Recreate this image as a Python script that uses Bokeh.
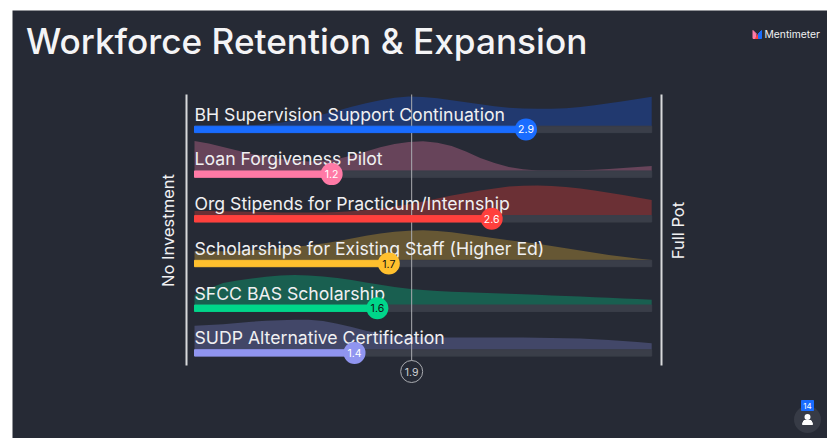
from bokeh.plotting import figure
from bokeh.models import Range1d
from bokeh.core.properties import value
from bokeh.embed import file_html
from bokeh.resources import INLINE

title = "Workforce Retention & Expansion"
categories = ["BH Supervision Support Continuation", "Loan Forgiveness Pilot",
              "Org Stipends for Practicum/Internship", "Scholarships for Existing Staff (Higher Ed)",
              "SFCC BAS Scholarship", "SUDP Alternative Certification"]
scores = [2.9, 1.2, 2.6, 1.7, 1.6, 1.4]
mean_score = 1.9
participants = "14"
left_label = "No Investment"
right_label = "Full Pot"
scale_max = 4
grid = [0, .125, .25, .375, .5, .625, .75, .875, 1, 1.125, 1.25, 1.375, 1.5, 1.625, 1.75, 1.875, 2,
        2.125, 2.25, 2.375, 2.5, 2.625, 2.75, 2.875, 3, 3.125, 3.25, 3.375, 3.5, 3.625, 3.75, 3.875, 4]
dens_bh = [0, .1, .3, .6, 1, 2, 3.5, 6, 9, 12, 15.5, 19.5, 23, 26, 28.5, 29.7, 29.2, 28, 26, 24, 22, 20, 18.5,
           17.8, 17.5, 17.5, 18, 19.3, 21, 23, 25, 27.2, 29.5]
dens_loan = [30, 27.3, 24, 20.5, 17, 14.3, 12, 10.4, 9.5, 10.2, 12, 15.3, 19.5, 23.6, 27, 29, 29.7, 28.2, 25,
             19.3, 13, 8, 4, 1.6, .5, .3, .3, .6, 1.2, 2, 2.8, 3.9, 5]
dens_org = [4.6, 4.5, 4.3, 4.1, 3.8, 3.5, 3.2, 3, 3, 3.2, 3.5, 4.3, 5.5, 7, 9, 11.3, 14, 17, 20, 22.6, 25, 27.2,
            29, 29.8, 30, 29.5, 28.5, 27, 25, 22.8, 20.5, 18, 15.5]
dens_sch = [9, 9, 9, 9.4, 10, 11, 12, 13.4, 15, 16.9, 19, 21.7, 24.5, 26.8, 28.5, 29.6, 30, 29.4, 28, 26, 24, 22,
            20, 18.2, 16.5, 14.3, 12, 9.7, 7.5, 5.4, 3.5, 1.7, .3]
dens_sfcc = [10, 16.5, 22, 24.6, 26.5, 28.2, 29.5, 29.9, 29.5, 28.5, 27, 24.9, 22.5, 20.2, 18, 16.3, 15, 14, 13.3,
             12.8, 12.3, 11.8, 11.3, 10.8, 10.2, 9.6, 9, 8.4, 7.8, 7.2, 6.5, 5.9, 5.3]
dens_sudp = [24, 24.6, 25.5, 26.7, 28, 28.9, 29.5, 29.9, 30, 28.6, 26, 22.6, 19, 16.2, 14, 13, 12.5, 12.3, 12.3,
             12.3, 12.3, 12.3, 12.3, 12.2, 12, 11.8, 11.5, 11.1, 10.5, 9.7, 8.7, 7.6, 6.4]
densities = [dens_bh, dens_loan, dens_org, dens_sch, dens_sfcc, dens_sudp]
bar_colors = ["#196cff", "#ff7aa6", "#ff403d", "#ffc02e", "#00d68a", "#9095f0"]
dens_colors = ["#21396f", "#67445a", "#6b3035", "#665734", "#195f50", "#424768"]
knob_text = ["white", "white", "white", "#101010", "#101010", "white"]

BG = "#262a35"; TRACK = "#3a3e49"; LINE = "#d8d9dc"
X0 = 194.0; PX = 114.3; BASE = 125.7; STEP = 44.7; BAR_H = 6.4
FONT = value("Inter"); TITLE_FONT = value("Inter Medium")

def px(a):
    return (a - X0) / PX

p = figure(width=827, height=438, output_backend="svg", toolbar_location=None,
           min_border_left=12, min_border_top=10, min_border_right=0, min_border_bottom=0,
           x_range=Range1d(px(12), px(827)), y_range=Range1d(438, 10))
p.axis.visible = False
p.grid.visible = False
p.outline_line_color = None
p.background_fill_color = BG
p.border_fill_color = "white"

for i, (d, cd) in enumerate(zip(densities, dens_colors)):
    base = BASE + i * STEP
    p.varea(x=grid, y1=[base] * len(grid), y2=[base - h for h in d], fill_color=cd)
    p.quad(left=[0], right=[scale_max], top=[base], bottom=[base + BAR_H], color=TRACK)

p.segment(x0=[mean_score], x1=[mean_score], y0=[94], y1=[360], line_color="#a9abb0", line_width=1)
p.segment(x0=[px(186), px(661)], x1=[px(186), px(661)],
          y0=[94, 94], y1=[365, 365], line_color=LINE, line_width=2)
p.scatter(x=[mean_score], y=[371], size=22, fill_color=None, line_color="#a9abb0", line_width=1)
p.text(x=[mean_score], y=[371], text=[f"{mean_score}"], text_color="#d0d1d4", text_font_size="10.5px",
       text_font=FONT, text_align="center", text_baseline="middle")

for i, (name, s, cb, kt) in enumerate(zip(categories, scores, bar_colors, knob_text)):
    base = BASE + i * STEP
    p.text(x=[0], y=[base - 1.5], text=[name], text_color="#f0f0f2", text_font_size="17.65px",
           text_font=FONT, text_align="left", text_baseline="bottom")
    p.quad(left=[0], right=[s], top=[base], bottom=[base + BAR_H], color=cb)
    p.scatter(x=[s], y=[base + BAR_H / 2], size=22, fill_color=cb, line_color=None)
    p.text(x=[s], y=[base + BAR_H / 2], text=[f"{s}"], text_color=kt, text_font_size="10.5px",
           text_font=FONT, text_align="center", text_baseline="middle")

p.text(x=[px(25.5)], y=[40.5], text=[title], text_color="#f4f4f6", text_font_size="35.2px",
       text_font=TITLE_FONT, text_align="left", text_baseline="middle")
p.text(x=[px(167.5)], y=[230], text=[left_label], text_color="#f0f0f2", text_font_size="16.5px",
       text_font=FONT, text_align="center", text_baseline="middle", angle=1.5708)
p.text(x=[px(677.5)], y=[230], text=[right_label], text_color="#f0f0f2", text_font_size="16.5px",
       text_font=FONT, text_align="center", text_baseline="middle", angle=1.5708)

p.patch(x=[px(a) for a in (752.5, 755.5, 755.5, 752.5)], y=[30, 33, 38, 38], color="#ff7aa6")
p.patch(x=[px(a) for a in (755, 758, 758)], y=[38, 33, 38], color="#ff403d")
p.patch(x=[px(a) for a in (758, 761, 761, 758)], y=[33, 30, 38, 38], color="#196cff")
p.text(x=[px(764)], y=[33.5], text=["Mentimeter"], text_color="#f0f0f2", text_font_size="10.3px",
       text_font=FONT, text_align="left", text_baseline="middle")

p.scatter(x=[px(807)], y=[419], size=27, fill_color="#373b46", line_color=None)
p.quad(left=[px(801)], right=[px(813)], top=[400], bottom=[410], color="#196cff")
p.text(x=[px(807)], y=[405], text=[participants], text_color="white", text_font_size="8px",
       text_font=FONT, text_align="center", text_baseline="middle")
p.scatter(x=[px(807)], y=[416.5], size=6, fill_color="white", line_color=None)
p.patch(x=[px(a) for a in (802, 803.5, 810.5, 812, 812, 802)], y=[423, 420, 420, 423, 424, 424], color="white")

open("out.html", "w").write(file_html(p, INLINE))
